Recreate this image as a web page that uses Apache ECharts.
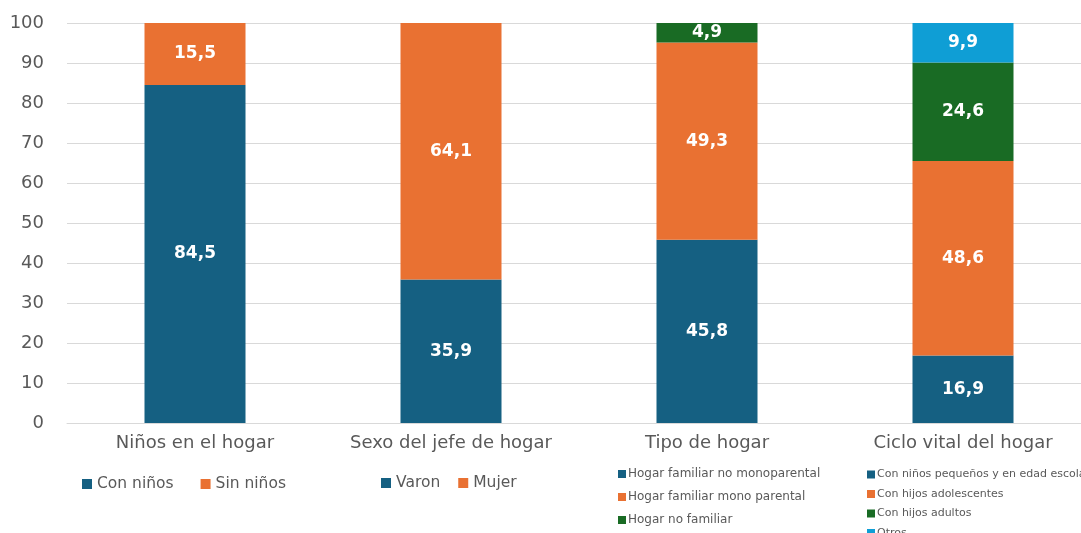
<!DOCTYPE html>
<html>
<head>
<meta charset="utf-8">
<script src="https://cdn.jsdelivr.net/npm/echarts@6/dist/echarts.min.js"></script>
<style>
  html, body { margin: 0; padding: 0; background: #fff; overflow: hidden; }
  #main { width: 1091px; height: 533px; }
</style>
</head>
<body>
<div id="main"></div>
<script>
// categorias y valores (%)
var categorias = ['Niños en el hogar', 'Sexo del jefe de hogar', 'Tipo de hogar', 'Ciclo vital del hogar'];
var yTicks = [0, 10, 20, 30, 40, 50, 60, 70, 80, 90, 100];

var ninos = { names: ['Con niños', 'Sin niños'], values: [84.5, 15.5] };
var sexo = { names: ['Varon', 'Mujer'], values: [35.9, 64.1] };
var tipo = { names: ['Hogar familiar no monoparental', 'Hogar familiar mono parental', 'Hogar no familiar'], values: [45.8, 49.3, 4.9] };
var ciclo = { names: ['Con niños pequeños y en edad escolar', 'Con hijos adolescentes', 'Con hijos adultos', 'Otros'], values: [16.9, 48.6, 24.6, 9.9] };

var colores = ['#156082', '#E97132', '#196B24', '#0F9ED5'];
var grupos = [ninos, sexo, tipo, ciclo];
var fuente = 'DejaVu Sans';

var series = [];
grupos.forEach(function (g, gi) {
  g.names.forEach(function (n, i) {
    var d = categorias.map(function (c, ci) { return ci === gi ? g.values[i] : '-'; });
    series.push({
      name: n,
      type: 'bar',
      stack: 'total',
      barWidth: 101,
      itemStyle: { color: colores[i] },
      label: {
        show: true,
        position: 'inside',
        color: '#fff',
        fontWeight: 'bold',
        fontSize: 17,
        fontFamily: fuente,
        formatter: function (p) { return String(p.value).replace('.', ','); }
      },
      data: d
    });
  });
});

var myChart = echarts.init(document.getElementById('main'));
var option = {
  animation: false,
  grid: { left: 67, top: 23, right: 0, bottom: 110 },
  xAxis: {
    type: 'category',
    data: categorias,
    axisLine: { lineStyle: { color: '#d9d9d9' } },
    axisTick: { show: false },
    axisLabel: { color: '#595959', fontSize: 18, fontFamily: fuente, margin: 11, interval: 0 }
  },
  yAxis: {
    type: 'value',
    min: 0, max: 100, interval: 10,
    axisLine: { show: false },
    axisTick: { show: false },
    splitLine: { lineStyle: { color: '#d9d9d9' } },
    axisLabel: { color: '#595959', fontSize: 18, fontFamily: fuente, margin: 23 }
  },
  legend: [
    {
      data: ninos.names, left: 77, top: 471, itemWidth: 10, itemHeight: 10, itemGap: 27,
      icon: 'rect', textStyle: { color: '#595959', fontSize: 15.5, fontFamily: fuente }
    },
    {
      data: sexo.names, left: 376, top: 470, itemWidth: 10, itemHeight: 10, itemGap: 18,
      icon: 'rect', textStyle: { color: '#595959', fontSize: 15.5, fontFamily: fuente }
    },
    {
      data: tipo.names, left: 613, top: 463, height: 200, orient: 'vertical', itemWidth: 8, itemHeight: 8, itemGap: 11,
      icon: 'rect', textStyle: { color: '#595959', fontSize: 12, fontFamily: fuente, padding: [0, 0, 0, -3] }
    },
    {
      data: ciclo.names, left: 862, top: 464, height: 200, orient: 'vertical', itemWidth: 8, itemHeight: 8, itemGap: 8.5,
      icon: 'rect', textStyle: { color: '#595959', fontSize: 11, fontFamily: fuente, padding: [0, 0, 0, -3] }
    }
  ],
  series: series
};
myChart.setOption(option);
</script>
</body>
</html>
